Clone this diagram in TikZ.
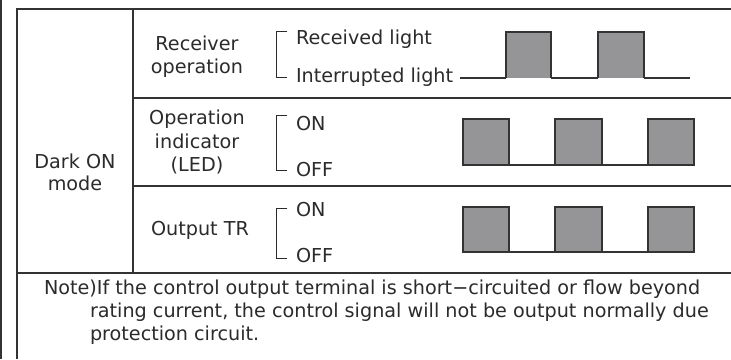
\documentclass[tikz,border=0pt]{standalone}
\usepackage{fontspec}
\setmainfont{DejaVu Sans}
\begin{document}
\begin{tikzpicture}[x=1pt,y=-1pt,
  txt/.style={inner sep=0pt,outer sep=0pt,text=textc,font=\fontsize{19.2}{23}\selectfont},
  rule/.style={draw=rulec,line width=1.3pt},
  brk/.style={draw=textc,line width=0.9pt},
  wave/.style={draw=wavec,line width=1.2pt},
  pulse/.style={draw=wavec,fill=pulsec,line width=1.2pt}]
\definecolor{textc}{HTML}{2B2B2B}
\definecolor{rulec}{HTML}{333333}
\definecolor{wavec}{HTML}{333333}
\definecolor{pulsec}{HTML}{959597}
\useasboundingbox (0,0) rectangle (731,359);
\fill[white] (0,0) rectangle (731,359);
% outer left bar
\draw[rulec,line width=2pt] (1,0) -- (1,359);
% table rules
\draw[rule] (17,359) -- (17,9) -- (731,9);
\draw[rule] (133,9) -- (133,273);
\draw[rule] (133,98) -- (731,98);
\draw[rule] (133,186) -- (731,186);
\draw[rule] (17,273) -- (731,273);
% left column
\node[txt,anchor=base] (dark) at (75,168) {Dark ON};
\node[txt,anchor=base] (mode) at (75,190) {mode};
% row 1
\node[txt,anchor=base] (rec1) at (197,50) {Receiver};
\node[txt,anchor=base] (rec2) at (197,73) {operation};
\draw[brk] (287,31) -- (276,31) -- (276,77) -- (287,77);
\node[txt,anchor=base west] (rl) at (296,44) {Received light};
\node[txt,anchor=base west] (il) at (296,82) {Interrupted light};
\draw[wave] (460,78) -- (506,78);
\filldraw[pulse] (506,78) -- (506,32) -- (551,32) -- (551,78);
\draw[wave] (551,78) -- (598,78);
\filldraw[pulse] (598,78) -- (598,32) -- (644,32) -- (644,78);
\draw[wave] (644,78) -- (690,78);
% row 2
\node[txt,anchor=base] (led1) at (197,124) {Operation};
\node[txt,anchor=base] (led2) at (197,148) {indicator};
\node[txt,anchor=base] (led3) at (197,171) {(LED)};
\draw[brk] (287,115) -- (276,115) -- (276,170) -- (287,170);
\node[txt,anchor=base west] (on1) at (296,130) {ON};
\node[txt,anchor=base west] (off1) at (296,176) {OFF};
\filldraw[pulse] (463,165) -- (463,119) -- (509,119) -- (509,165) -- cycle;
\draw[wave] (509,165) -- (555,165);
\filldraw[pulse] (555,165) -- (555,119) -- (602,119) -- (602,165) -- cycle;
\draw[wave] (602,165) -- (648,165);
\filldraw[pulse] (648,165) -- (648,119) -- (694,119) -- (694,165) -- cycle;
% row 3
\node[txt,anchor=base] (otr) at (200,235) {Output TR};
\draw[brk] (287,208) -- (276,208) -- (276,258) -- (287,258);
\node[txt,anchor=base west] (on2) at (296,216) {ON};
\node[txt,anchor=base west] (off2) at (296,262) {OFF};
\filldraw[pulse] (463,252) -- (463,207) -- (509,207) -- (509,252) -- cycle;
\draw[wave] (509,252) -- (555,252);
\filldraw[pulse] (555,252) -- (555,207) -- (602,207) -- (602,252) -- cycle;
\draw[wave] (602,252) -- (648,252);
\filldraw[pulse] (648,252) -- (648,207) -- (694,207) -- (694,252) -- cycle;
% note
\node[txt,anchor=base west] (n1) at (44,294) {Note)If the control output terminal is short−circuited or flow beyond};
\node[txt,anchor=base west] (n2) at (90,317) {rating current, the control signal will not be output normally due};
\node[txt,anchor=base west] (n3) at (90,340) {protection circuit.};
\end{tikzpicture}
\end{document}
